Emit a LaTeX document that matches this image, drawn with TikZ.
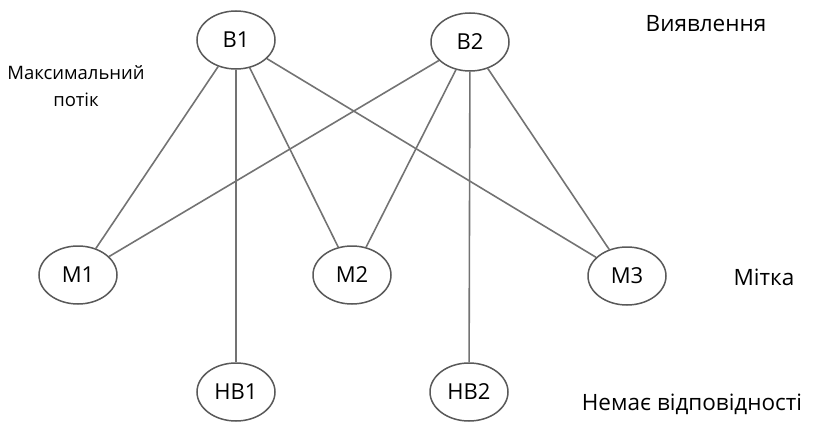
\documentclass[tikz,border=0pt]{standalone}
\usepackage{fontspec}
\setmainfont{Open Sans}
\usetikzlibrary{shapes.geometric}

\begin{document}
\begin{tikzpicture}[x=1pt, y=-1pt,
    vertex/.style={ellipse, draw=black!65, line width=1.5pt, minimum width=78pt, minimum height=58pt, inner sep=0pt, font=\fontsize{22}{24}\selectfont},
    edge/.style={black!55, line width=1.6pt},
    caption/.style={font=\fontsize{22.5}{27}\selectfont, align=center}]
  \useasboundingbox (0,0) rectangle (815,423);
  % top row
  \node[vertex] (b1) at (236,40) {В1};
  \node[vertex] (b2) at (470,42) {В2};
  % middle row
  \node[vertex] (m1) at (78,275) {М1};
  \node[vertex] (m2) at (352,275) {М2};
  \node[vertex] (m3) at (627,276) {М3};
  % bottom row
  \node[vertex] (nb1) at (236,392) {НВ1};
  \node[vertex] (nb2) at (469,392) {НВ2};
  % labels
  \node[caption] (lbl1) at (706,24) {Виявлення};
  \node[caption, font=\fontsize{18.5}{27}\selectfont] (lbl2) at (76,86) {Максимальний\\потік};
  \node[caption] (lbl3) at (764,277) {Мітка};
  \node[caption] (lbl4) at (692,404) {Немає відповідності};
  % edges
  \draw[edge] (b1) -- (m1);
  \draw[edge] (b1) -- (nb1);
  \draw[edge] (b1) -- (m2);
  \draw[edge] (b1) -- (m3);
  \draw[edge] (b2) -- (m1);
  \draw[edge] (b2) -- (m2);
  \draw[edge] (b2) -- (nb2);
  \draw[edge] (b2) -- (m3);
\end{tikzpicture}
\end{document}
